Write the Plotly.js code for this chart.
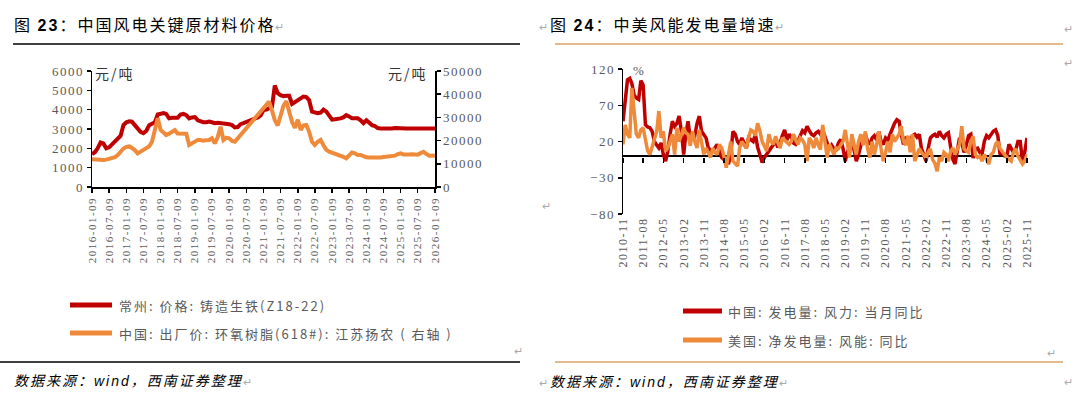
<!DOCTYPE html>
<html><head><meta charset="utf-8">
<script src="https://cdn.plot.ly/plotly-3.0.1.min.js"></script>
<style>
html,body{margin:0;padding:0;background:#fff;}
#chart{width:1080px;height:398px;}
g[class$="tick"] text{letter-spacing:1.5px;}
text.annotation-text{letter-spacing:2px;}
</style></head><body><div id="chart"></div>
<script>
// ---------------- Data: chart 23 (monthly from 2016-01-09) ----------------
const leftStart = [2016, 1, 9];
const ironPrice = [1700,1800,2000,2300,2250,2000,2050,2200,2350,2500,2650,3200,3350,3400,3380,3200,3050,2850,2780,2900,
 3200,3300,3350,3750,3800,3820,3780,3550,3580,3600,3580,3750,3780,3720,3550,3600,3620,3450,3380,3350,
 3350,3380,3350,3300,3320,3300,3280,3300,3250,3200,3080,3100,3250,3300,3350,3420,3450,3550,3600,3700,
 3980,4000,4050,4150,5250,4850,4750,4700,4720,4720,4300,4400,4500,4600,4680,4650,4500,3900,3850,3820,
 3850,4000,3900,3650,3480,3500,3500,3550,3600,3720,3650,3550,3550,3550,3450,3300,3450,3300,3200,3150,
 3050,3030,3020,3000,3020,3030,3050,3030,3020,3000,3020,3030,3030,3020,3030,3030,3020,3030,3030,3020,3030];
const epoxyPrice = [12000,11800,11600,11600,11600,11800,12000,12200,12800,13800,15500,16600,17300,17500,16800,15900,14500,15200,16200,16700,
 17500,19500,24000,29600,24600,23300,22400,23000,23800,24500,23100,23100,23200,23000,18100,18800,19500,20300,20260,20000,
 20200,20260,21000,18800,21500,26000,20260,21200,20980,19800,19500,null,null,null,null,null,null,null,null,null,
 null,null,36800,33000,28800,26500,31000,35000,37000,32500,28000,25500,29000,24600,26500,26700,23800,19500,18100,19500,
 20300,18000,16000,15200,14800,14500,14000,13800,13000,12400,13500,14900,14500,13800,13800,13200,12800,12700,12600,12700,
 12650,12700,12900,13000,13200,13500,13500,14200,14500,14000,13800,14000,14100,14100,13900,14600,15200,14200,13500,13600,13500];
const leftTickLabels = ['2016-01-09','2016-07-09','2017-01-09','2017-07-09','2018-01-09','2018-07-09','2019-01-09','2019-07-09',
 '2020-01-09','2020-07-09','2021-01-09','2021-07-09','2022-01-09','2022-07-09','2023-01-09','2023-07-09','2024-01-09',
 '2024-07-09','2025-01-09','2025-07-09','2026-01-09'];
const leftSeriesNames = ['常州: 价格: 铸造生铁(Z18-22)','中国: 出厂价: 环氧树脂(618#): 江苏扬农 ( 右轴 )'];

// ---------------- Data: chart 24 (monthly from 2010-11) ----------------
const rightStart = [2010, 11, 1];
const chinaWindYoY = [48,80,105,107,100,84,80,78,104,98,43,40,39,34,20,15,11,18,2,-7,
 7,30,48,41,45,55,34,2,30,48,25,30,28,45,55,34,30,25,11,8,
 7,12,16,7,-2,-5,-7,-11,2,34,30,20,16,25,18,11,25,22,20,30,
 12,2,-9,-2,2,8,11,15,20,12,18,28,36,22,30,25,18,16,20,28,
 35,32,41,35,30,28,32,34,30,36,28,20,9,15,10,9,18,23,11,-7,
 5,12,20,8,-7,2,15,22,30,20,16,25,28,22,34,20,16,25,22,30,
 38,45,50,48,30,16,25,25,22,28,30,26,30,10,2,-7,10,25,28,30,
 26,34,28,25,30,32,12,-5,-11,10,25,18,5,15,28,30,-3,10,11,5,
 2,20,28,25,30,34,36,28,2,5,0,0,16,10,5,8,20,20,-7,5,25];
const usWindYoY = [16,43,30,25,94,60,30,25,36,39,25,7,2,12,20,34,62,25,34,7,
 11,20,30,2,39,20,30,39,32,30,14,34,20,11,36,20,2,11,5,-2,
 11,5,2,16,11,0,-16,5,20,-7,-10,-14,11,20,15,11,25,36,34,28,
 45,35,20,12,7,30,20,16,27,18,11,25,22,20,16,20,30,22,16,25,
 22,16,-7,25,20,11,25,15,9,43,20,-2,16,10,2,11,10,15,20,36,
 20,-2,30,15,2,20,30,15,34,10,-2,20,2,15,34,10,-7,5,20,5,
 30,20,25,30,41,20,15,28,5,30,-7,2,10,5,2,-2,5,10,-5,-10,
 -21,-2,-7,5,2,-7,7,11,2,10,16,41,10,7,5,20,27,2,-2,0,
 -7,2,-5,-11,2,5,16,20,10,5,2,-2,-5,-7,5,10,0,-5,-11,-7,2];
const rightTickLabels = ['2010-11','2011-08','2012-05','2013-02','2013-11','2014-08','2015-05','2016-02','2016-11',
 '2017-08','2018-05','2019-02','2019-11','2020-08','2021-05','2022-02','2022-11','2023-08','2024-05','2025-02','2025-11'];
const rightSeriesNames = ['中国: 发电量: 风力: 当月同比','美国: 净发电量: 风能: 同比'];

// ---------------- helpers ----------------
function monthDates(start, n){
  const out=[]; let y=start[0], m=start[1];
  for(let i=0;i<n;i++){
    out.push(y+'-'+String(m).padStart(2,'0')+'-'+String(start[2]).padStart(2,'0'));
    m++; if(m>12){m=1;y++;}
  }
  return out;
}
const W=1080, H=398;
const px = x => x/W;
const py = y => 1 - y/H;

const RED='#C00000', ORANGE='#EE8A3A', TAN='#D9A566', GRAY='#595959';
const SERIF='Liberation Serif, Noto Sans CJK SC, serif';
const CJK='Noto Sans CJK SC, Liberation Serif, serif';

const leftDates = monthDates(leftStart, ironPrice.length);
const rightDates = monthDates(rightStart, chinaWindYoY.length);
const rightTickVals = rightTickLabels.map(s => s+'-01');

const traces = [
  {x:leftDates, y:ironPrice, xaxis:'x', yaxis:'y', mode:'lines', name:leftSeriesNames[0],
   line:{color:RED, width:4}, connectgaps:true, hoverinfo:'skip'},
  {x:leftDates, y:epoxyPrice, xaxis:'x', yaxis:'y2', mode:'lines', name:leftSeriesNames[1],
   line:{color:ORANGE, width:4}, connectgaps:true, hoverinfo:'skip'},
  {x:rightDates, y:chinaWindYoY, xaxis:'x2', yaxis:'y3', mode:'lines', name:rightSeriesNames[0],
   line:{color:RED, width:3.5}, hoverinfo:'skip'},
  {x:rightDates, y:usWindYoY, xaxis:'x2', yaxis:'y3', mode:'lines', name:rightSeriesNames[1],
   line:{color:ORANGE, width:3.5}, hoverinfo:'skip'},
  {x:[], y:[], xaxis:'x3', yaxis:'y3', mode:'lines', showlegend:false, hoverinfo:'skip'}
];

const axisCommon = {showgrid:false, zeroline:false, showline:true, linecolor:'#000', linewidth:1.5,
  ticks:'outside', ticklen:4, tickwidth:1.5, tickcolor:'#000', fixedrange:true,
  exponentformat:'none', separatethousands:false};

const layout = {
  width:W, height:H, margin:{l:0,r:0,t:0,b:0}, paper_bgcolor:'#fff', plot_bgcolor:'rgba(0,0,0,0)',
  showlegend:false,
  xaxis: Object.assign({}, axisCommon, {domain:[px(92), px(435)], anchor:'y', type:'date',
    range:[leftDates[0], leftDates[leftDates.length-1]], tickmode:'array', tickvals:leftTickLabels, ticktext:leftTickLabels,
    tickangle:-90, tickfont:{family:SERIF, size:11, color:GRAY}}),
  yaxis: Object.assign({}, axisCommon, {domain:[py(187), py(71)], anchor:'x', range:[0,6000], dtick:1000,
    tickformat:'d', tickfont:{family:SERIF, size:13, color:GRAY}}),
  yaxis2: Object.assign({}, axisCommon, {overlaying:'y', side:'right', anchor:'x', range:[0,50000], dtick:10000,
    tickformat:'d', tickfont:{family:SERIF, size:13, color:GRAY}}),
  xaxis2: {domain:[px(623), px(1027)], anchor:'y3', type:'date', range:[rightDates[0], rightDates[rightDates.length-1]],
    showgrid:false, zeroline:false, showline:false, ticks:'', tickmode:'array', tickvals:rightTickVals, ticktext:rightTickLabels,
    tickangle:-90, tickfont:{family:SERIF, size:12, color:GRAY}, fixedrange:true},
  xaxis3: {overlaying:'x2', anchor:'free', position:py(157), type:'date', range:[rightDates[0], rightDates[rightDates.length-1]],
    showgrid:false, zeroline:false, showline:false, ticks:'outside', ticklen:5, tickwidth:1.5, tickcolor:'#000',
    tickmode:'array', tickvals:rightTickVals, showticklabels:false, fixedrange:true},
  yaxis3: Object.assign({}, axisCommon, {domain:[py(214), py(69)], anchor:'x2', range:[-80,120], tickmode:'array',
    tickvals:[-80,-30,20,70,120], zeroline:true, zerolinecolor:'#000', zerolinewidth:1.5,
    tickfont:{family:SERIF, size:13, color:GRAY}}),
  shapes: [
    {type:'line', xref:'paper', yref:'paper', x0:px(13), x1:px(520), y0:py(44), y1:py(44), line:{color:'#000', width:1.5}},
    {type:'line', xref:'paper', yref:'paper', x0:px(0), x1:px(520), y0:py(362), y1:py(362), line:{color:'#000', width:1.5}},
    {type:'line', xref:'paper', yref:'paper', x0:px(555), x1:px(1063), y0:py(44), y1:py(44), line:{color:TAN, width:1.5}},
    {type:'line', xref:'paper', yref:'paper', x0:px(555), x1:px(1063), y0:py(362), y1:py(362), line:{color:TAN, width:1.5}},
    // legend samples
    {type:'line', xref:'paper', yref:'paper', x0:px(70), x1:px(112), y0:py(305), y1:py(305), line:{color:RED, width:5}},
    {type:'line', xref:'paper', yref:'paper', x0:px(70), x1:px(112), y0:py(333), y1:py(333), line:{color:ORANGE, width:5}},
    {type:'line', xref:'paper', yref:'paper', x0:px(683), x1:px(722), y0:py(311), y1:py(311), line:{color:RED, width:5}},
    {type:'line', xref:'paper', yref:'paper', x0:px(683), x1:px(722), y0:py(340), y1:py(340), line:{color:ORANGE, width:5}}
  ],
  annotations: []
};

function ann(x, y, text, opts){
  return Object.assign({xref:'paper', yref:'paper', x:px(x), y:py(y), text:text, showarrow:false,
    xanchor:'left', yanchor:'middle', font:{family:CJK, size:13, color:GRAY}}, opts||{});
}
const RET = '<span style="color:#aaaaaa;font-size:11px">↵</span>';
layout.annotations.push(
  ann(12, 24, '图 <b><span style="font-family:Liberation Sans">23</span></b>：中国风电关键原材料价格'+RET, {font:{family:CJK, size:16, color:'#000'}}),
  ann(537, 24, RET+'图 <b><span style="font-family:Liberation Sans">24</span></b>：中美风能发电量增速'+RET, {font:{family:CJK, size:16, color:'#000'}}),
  ann(1062, 28, RET), ann(1062, 62, RET),
  ann(93, 73, '元/吨', {font:{family:CJK, size:14, color:'#333'}}),
  ann(430, 73, '元/吨', {xanchor:'right', font:{family:CJK, size:14, color:'#333'}}),
  ann(631, 71, '%', {font:{family:SERIF, size:13, color:GRAY}}),
  ann(117, 305, leftSeriesNames[0]),
  ann(117, 333, leftSeriesNames[1]),
  ann(726, 311, rightSeriesNames[0]),
  ann(726, 340, rightSeriesNames[1]),
  ann(512, 350, RET), ann(540, 205, RET), ann(1045, 352, RET),
  ann(12, 380, '<i>数据来源：<span style="font-family:Liberation Sans">wind</span>，西南证券整理</i>'+RET, {font:{family:CJK, size:14, color:'#000'}}),
  ann(537, 381, RET+'<i>数据来源：<span style="font-family:Liberation Sans">wind</span>，西南证券整理</i>'+RET, {font:{family:CJK, size:14, color:'#000'}}),
  ann(1062, 381, RET)
);

Plotly.newPlot('chart', traces, layout, {staticPlot:true, displayModeBar:false});
</script></body></html>
